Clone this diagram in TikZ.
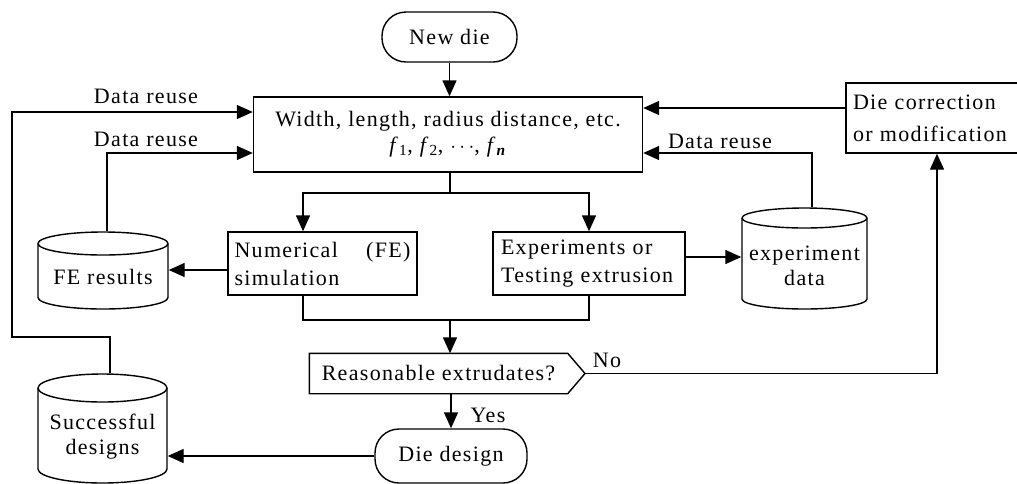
\documentclass[tikz,border=0pt]{standalone}
\usepackage{fontspec}
\setmainfont{Liberation Serif}[LetterSpace=6]
\usetikzlibrary{arrows.meta}
\newcommand\cylpath[5]{% left, right, top, bottom, ry
  \draw (#1,-#3-#5) -- (#1,-#4+#5) arc(180:360:{(#2-#1)/2} and #5) -- (#2,-#3-#5) arc(0:180:{(#2-#1)/2} and #5) -- cycle;
  \draw (#1,-#3-#5) arc(180:360:{(#2-#1)/2} and #5);
}
\begin{document}
\begin{tikzpicture}[x=1pt,y=1pt, line width=1.4pt,
  every node/.style={font=\fontsize{22}{27}\selectfont, inner sep=0pt},
  box/.style={draw, rectangle},
  term/.style={draw, rectangle, rounded corners=24pt},
  arr/.style={-{Triangle[length=16pt,width=14pt]}},
  lbl/.style={}]
\useasboundingbox (0,0) rectangle (1017,-483);

% nodes
\node[term, minimum width=135pt, minimum height=50pt] (newdie) at (449.5,-37) {New die};
\node[box, minimum width=389pt, minimum height=75pt, align=center] (main) at (448,-134.5)
  {Width, length, radius distance, etc.\\[-1pt]
   \textit{f}\textsubscript{1}, \textit{f}\textsubscript{2}, $\cdots$, \textit{f}\textsubscript{\textit{\textbf{n}}}};
\node[box, minimum width=176pt, minimum height=70pt, text width=162pt, align=left, font=\fontsize{22}{32}\selectfont] (diecorr) at (934,-118)
  {Die correction\\or modification};
\node[box, minimum width=189pt, minimum height=63pt, text width=176pt, align=left, font=\fontsize{22}{28}\selectfont] (num) at (322.5,-263.5)
  {\makebox[176pt][l]{Numerical\hfill(FE)}\\simulation};
\node[box, minimum width=192pt, minimum height=63pt, text width=176pt, align=left, font=\fontsize{22}{28}\selectfont] (exp) at (589,-263.5)
  {Experiments or\\Testing extrusion};

% cylinders
\cylpath{38}{168}{232}{309}{11.5}
\node[minimum width=130pt, minimum height=90pt] (fe) at (103,-277) {FE results};
\cylpath{742}{867}{208}{309}{10}
\node[minimum width=125pt, minimum height=116pt, align=center, font=\fontsize{22}{25}\selectfont] (expdata) at (804.5,-266) {experiment\\data};
\cylpath{38}{167}{374}{483}{14}
\node[minimum width=129pt, minimum height=126pt, align=center, font=\fontsize{22}{25}\selectfont] (succ) at (102.5,-437) {Successful\\designs};

% decision
\node[minimum width=257pt, minimum height=39pt] (dec) at (438.5,-373.5) {Reasonable extrudates?};
\coordinate (dectip) at (585,-373.5);
\draw (dec.north west) -- (dec.north east) -- (dectip) -- (dec.south east) -- (dec.south west) -- cycle;

\node[term, minimum width=152pt, minimum height=54pt] (diedesign) at (451,-456) {Die design};

% connectors
\coordinate (split) at (450,-193);
\coordinate (merge) at (450,-320);
\coordinate (loopB) at (12,-337);

\draw[arr] (newdie.south) -- (newdie.south |- main.north);
\draw (split |- main.south) -- (split);
\draw[arr] (split) -| ([xshift=-19.5pt]num.north);
\draw[arr] (split) -| (exp.north);
\draw ([xshift=-19.5pt]num.south) |- (merge);
\draw (exp.south) |- (merge);
\draw[arr] (merge) -- (merge |- dec.north);
\draw[arr] (diedesign.north |- dec.south) -- (diedesign.north);
\draw[arr] (diedesign.west) -- (diedesign.west -| succ.east);
\draw[arr] ([yshift=-6.5pt]num.west) -- ([yshift=-6.5pt]num.west -| fe.east);
\draw[arr] ([yshift=6.5pt]exp.east) -- ([yshift=6.5pt]exp.east -| expdata.west);
\draw[arr] ([xshift=4pt]fe.north) |- ([yshift=-18.5pt]main.west);
\draw[arr] ([xshift=7.5pt]succ.north) |- (loopB) |- ([yshift=22.5pt]main.west);
\draw[arr] ([xshift=7.5pt]expdata.north) |- ([yshift=-18.5pt]main.east);
\draw[arr] ([yshift=10pt]diecorr.west) -- ([yshift=10pt]diecorr.west -| main.east);
\draw[arr] (dectip) -| ([xshift=3pt]diecorr.south);

% labels
\node[lbl] (lreuse1) at (146,-96) {Data reuse};
\node[lbl] (lreuse2) at (146,-139) {Data reuse};
\node[lbl] (lreuse3) at (720,-141) {Data reuse};
\node[lbl] (lno) at (607,-360) {No};
\node[lbl] (lyes) at (488,-415) {Yes};
\end{tikzpicture}
\end{document}
